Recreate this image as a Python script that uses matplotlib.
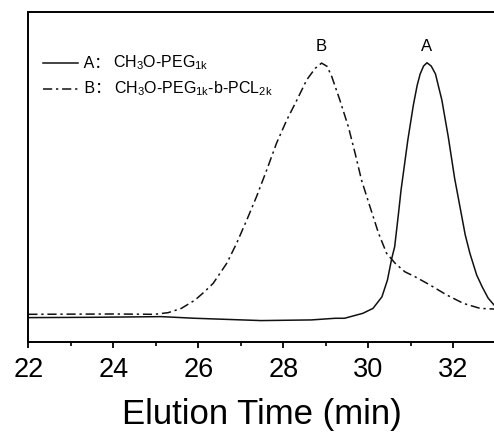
import matplotlib
matplotlib.use("Agg")
import matplotlib.pyplot as plt
from matplotlib.ticker import MultipleLocator
from matplotlib.offsetbox import AnchoredOffsetbox, HPacker, VPacker, TextArea, DrawingArea
from matplotlib.lines import Line2D

plt.rcParams['font.family'] = ['Liberation Sans', 'DejaVu Sans', 'Noto Sans CJK SC']
plt.rcParams['mathtext.default'] = 'regular'

# Elution time (min) and normalized detector signal
time_a = [22.0, 23.56, 25.13, 25.92, 27.48, 28.66, 29.22, 29.44, 29.87, 30.11, 30.32, 30.45,
          30.55, 30.62, 30.71, 30.77, 30.85, 30.93, 31.06, 31.15, 31.22, 31.30, 31.38, 31.48,
          31.58, 31.65, 31.73, 31.88, 32.03, 32.20, 32.28, 32.39, 32.55, 32.68, 32.82, 32.96, 33.0]
signal_a = [0.074, 0.075, 0.077, 0.072, 0.065, 0.067, 0.072, 0.072, 0.087, 0.102, 0.137, 0.188,
            0.253, 0.289, 0.390, 0.461, 0.537, 0.613, 0.719, 0.779, 0.813, 0.837, 0.847, 0.837,
            0.813, 0.776, 0.734, 0.623, 0.497, 0.380, 0.325, 0.269, 0.203, 0.167, 0.133, 0.112, 0.110]

time_b = [22.0, 24.0, 24.97, 25.29, 25.60, 25.92, 26.15, 26.35, 26.67, 26.90, 27.14, 27.37,
          27.61, 27.84, 28.08, 28.32, 28.55, 28.75, 28.90, 29.03, 29.14, 29.33, 29.53, 29.69,
          29.84, 30.04, 30.24, 30.43, 30.63, 30.86, 31.10, 31.45, 31.84, 32.24, 32.63, 32.96, 33.0]
signal_b = [0.084, 0.085, 0.084, 0.089, 0.102, 0.127, 0.153, 0.178, 0.239, 0.299, 0.370, 0.441,
            0.522, 0.603, 0.673, 0.734, 0.795, 0.830, 0.846, 0.836, 0.805, 0.734, 0.653, 0.572,
            0.491, 0.410, 0.330, 0.269, 0.239, 0.213, 0.198, 0.173, 0.143, 0.117, 0.102, 0.100, 0.100]

legend_prefixes = ["A：", "B："]
legend_names = [r"CH$_3$O-PEG$_{1k}$", r"CH$_3$O-PEG$_{1k}$-b-PCL$_{2k}$"]
peak_labels = ["B", "A"]
xticks = [22, 24, 26, 28, 30, 32]

line_color = '#111111'
style_a = '-'
style_b = (0, (6, 2.5, 1.5, 2.5))

fig = plt.figure(figsize=(4.94, 4.32), dpi=100)
ax = fig.add_axes([0.0573, 0.2083, 0.9464, 0.7632])

ax.plot(time_a, signal_a, color=line_color, lw=1.1, linestyle=style_a)
ax.plot(time_b, signal_b, color=line_color, lw=1.1, linestyle=style_b)

# peak labels above peak maxima
ia = signal_a.index(max(signal_a))
ib = signal_b.index(max(signal_b))
ax.text(time_b[ib], signal_b[ib] + 0.05, peak_labels[0], ha='center', va='center', fontsize=12)
ax.text(time_a[ia], signal_a[ia] + 0.05, peak_labels[1], ha='center', va='center', fontsize=12)

ax.set_xlim(22, 33)
ax.set_ylim(0, 1)
ax.set_xticks(xticks)
ax.xaxis.set_minor_locator(MultipleLocator(1))
ax.set_yticks([])
ax.spines['right'].set_visible(False)
for s in ['left', 'top', 'bottom']:
    ax.spines[s].set_linewidth(1.4)
ax.tick_params(axis='x', which='major', direction='out', length=4.5, width=1.3, labelsize=19.5, pad=6)
ax.tick_params(axis='x', which='minor', direction='out', length=3, width=1.2)
ax.set_xlabel("Elution Time (min)", fontsize=25, labelpad=11)

# legend built from a line sample and text pieces
rows = []
for prefix, name, ls in zip(legend_prefixes, legend_names, [style_a, style_b]):
    da = DrawingArea(25, 10, 0, 0)
    da.add_artist(Line2D([0, 25], [5, 5], color=line_color, lw=1.1, linestyle=ls))
    t1 = TextArea(" " + prefix, textprops=dict(fontsize=11.5, family=['Liberation Sans', 'Noto Sans CJK SC']))
    t2 = TextArea(name, textprops=dict(fontsize=11.5))
    txt = HPacker(children=[t1, t2], align='baseline', pad=0, sep=2)
    rows.append(HPacker(children=[da, txt], align='center', pad=0, sep=2))
box = VPacker(children=rows, align='left', pad=0, sep=5)
anch = AnchoredOffsetbox(loc='upper left', child=box, bbox_to_anchor=(0.031, 0.875),
                         bbox_transform=ax.transAxes, frameon=False, pad=0, borderpad=0)
ax.add_artist(anch)

fig.savefig("out.png", dpi=100)
